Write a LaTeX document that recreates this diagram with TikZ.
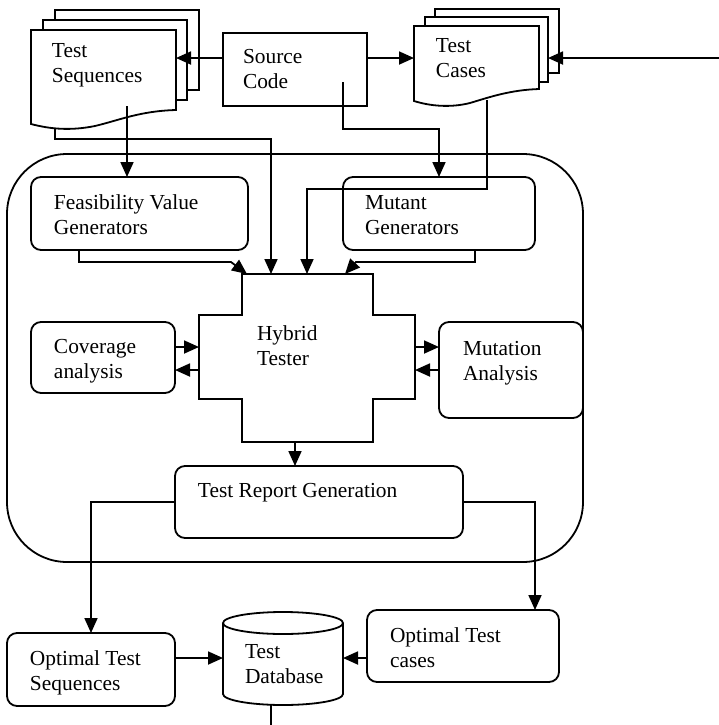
\documentclass[tikz,border=0pt]{standalone}
\usepackage{fontspec}
\setmainfont{Liberation Serif}
\usetikzlibrary{arrows.meta,fit,calc}
\begin{document}
\begin{tikzpicture}[x=0.5pt,y=-0.5pt,
  line/.style={line width=0.9pt, line join=miter},
  arr/.style={line, -{Triangle[length=7.5pt,width=6.5pt]}},
  rbox/.style={draw, line width=0.9pt, rounded corners=5pt, fill=white, inner sep=0pt, outer sep=0pt},
  sbox/.style={draw, line width=0.9pt, fill=white, inner sep=0pt, outer sep=0pt},
  anch/.style={inner sep=0pt, outer sep=0pt},
  txt/.style={anchor=base west, inner sep=0pt, outer sep=0pt, align=left, font=\fontsize{10.7}{12.25}\selectfont}]
\useasboundingbox (0,0) rectangle (719,725);
\fill[white] (0,0) rectangle (719,725);
% anchors for the hybrid tester cross
\node[anch, fit={(242,274)(373,442)}] (hyb) {};
\node[anch, fit={(199,315)(415,399)}] (hybarm) {};
% container
\node[draw, line width=0.9pt, rounded corners=30pt, inner sep=0pt, outer sep=0pt, fit={(7,154)(583,562)}] (cont) {};
% Test Sequences document stack
\node[sbox, fit={(55,10)(199,90)}] (ts3) {};
\draw[arr] (ts3.south west) |- (271,139) -- (271,0 |- hyb.north);
\node[sbox, fit={(43,20)(187,100)}] (ts2) {};
\node[anch, fit={(31,30)(176,110)}] (ts1) {};
\draw[line, fill=white] (ts1.north west) -- (ts1.north east) -- (ts1.south east)
  .. controls (140,111) and (120,120) .. (95,126)
  .. controls (70,131) and (50,129) .. (31,124) -- cycle;
% Test Cases document stack
\node[sbox, fit={(435,9)(559,73)}] (tc3) {};
\node[sbox, fit={(425,17)(548,82)}] (tc2) {};
\node[anch, fit={(414,26)(539,101)}] (tc1) {};
\draw[line, fill=white] (tc1.north west) -- (tc1.north east) -- (539,89)
  .. controls (510,90) and (490,97) .. (470,103)
  .. controls (450,108) and (430,106) .. (tc1.south west) -- cycle;
% Source code
\node[sbox, fit={(223,33)(367,106)}] (src) {};
% inner boxes
\node[rbox, fit={(31,177)(248,250)}] (fvg) {};
\node[rbox, fit={(343,177)(535,250)}] (mg) {};
\node[rbox, fit={(31,322)(175,393)}] (cov) {};
\node[rbox, fit={(439,322)(583,418)}] (mut) {};
\node[rbox, fit={(175,466)(463,538)}] (trg) {};
\node[rbox, fit={(7,633)(175,706)}] (ots) {};
\node[rbox, fit={(367,610)(559,682)}] (otc) {};
% hybrid tester cross
\draw[line, fill=white] (hyb.north west) -- (hyb.north east) -- (hyb.north east |- hybarm.north)
  -- (hybarm.north east) -- (hybarm.south east) -- (hyb.south east |- hybarm.south)
  -- (hyb.south east) -- (hyb.south west) -- (hyb.south west |- hybarm.south)
  -- (hybarm.south west) -- (hybarm.north west) -- (hyb.north west |- hybarm.north) -- cycle;
% database cylinder
\node[anch, fit={(223,612)(343,705)}] (db) {};
\draw[line, fill=white] (223,623) -- (223,694) arc[start angle=180, end angle=360, x radius=30pt, y radius=5.5pt] -- (343,623);
\draw[line, fill=white] (283,623) ellipse[x radius=30pt, y radius=5.5pt];
% texts (anchor = baseline of the last line)
\node[txt] (tsT) at (52,82) {Test\\Sequences};
\node[txt] (srcT) at (243,88) {Source\\Code};
\node[txt] (tcT) at (436,77) {Test\\Cases};
\node[txt] (fvgT) at (54,234) {Feasibility Value\\Generators};
\node[txt] (mgT) at (365,234) {Mutant\\Generators};
\node[txt] (hybT) at (257,365) {Hybrid\\Tester};
\node[txt] (covT) at (54,378) {Coverage\\analysis};
\node[txt] (mutT) at (463,380) {Mutation\\Analysis};
\node[txt] (trgT) at (198,497) {Test Report Generation};
\node[txt] (otsT) at (30,690) {Optimal Test\\Sequences};
\node[txt] (dbT) at (245,683) {Test\\Database};
\node[txt] (otcT) at (390,667) {Optimal Test\\cases};
% connectors
\coordinate (inR) at (719,58);
\coordinate (dbout) at (271,725);
\draw[arr] (src.west |- 0,58) -- (ts1.east |- 0,58);
\draw[arr] (src.east |- 0,58) -- (tc1.west |- 0,58);
\draw[arr] (inR) -- (inR -| tc2.east);
\draw[arr] ($(src.south west)+(120,-24)$) |- (439,129) -- (439,0 |- mg.north);
\draw[arr] ($(ts1.south west)+(96,-4)$) -- (127,0 |- fvg.north);
\draw[arr] ($(tc1.south west)+(73,-1)$) |- (307,189) -- (307,0 |- hyb.north);
\draw[arr] (79,0 |- fvg.south) |- (231,262) -- ([xshift=2.5pt]hyb.north west);
\draw[arr] (475,0 |- mg.south) |- (356,262) -- (345,0 |- hyb.north);
\draw[arr] (cov.east |- 0,347) -- (hybarm.west |- 0,347);
\draw[arr] (hybarm.west |- 0,370) -- (cov.east |- 0,370);
\draw[arr] (hybarm.east |- 0,347) -- (mut.west |- 0,347);
\draw[arr] (mut.west |- 0,370) -- (hybarm.east |- 0,370);
\draw[arr] (295,0 |- hyb.south) -- (295,0 |- trg.north);
\draw[arr] (trg.west |- 0,502) -| (91,0 |- ots.north);
\draw[arr] (trg.east |- 0,502) -| (535,0 |- otc.north);
\draw[arr] (ots.east |- 0,658) -- (db.west |- 0,658);
\draw[arr] (otc.west |- 0,658) -- (db.east |- 0,658);
\draw[line] (271,0 |- db.south) -- (dbout);
\end{tikzpicture}
\end{document}
